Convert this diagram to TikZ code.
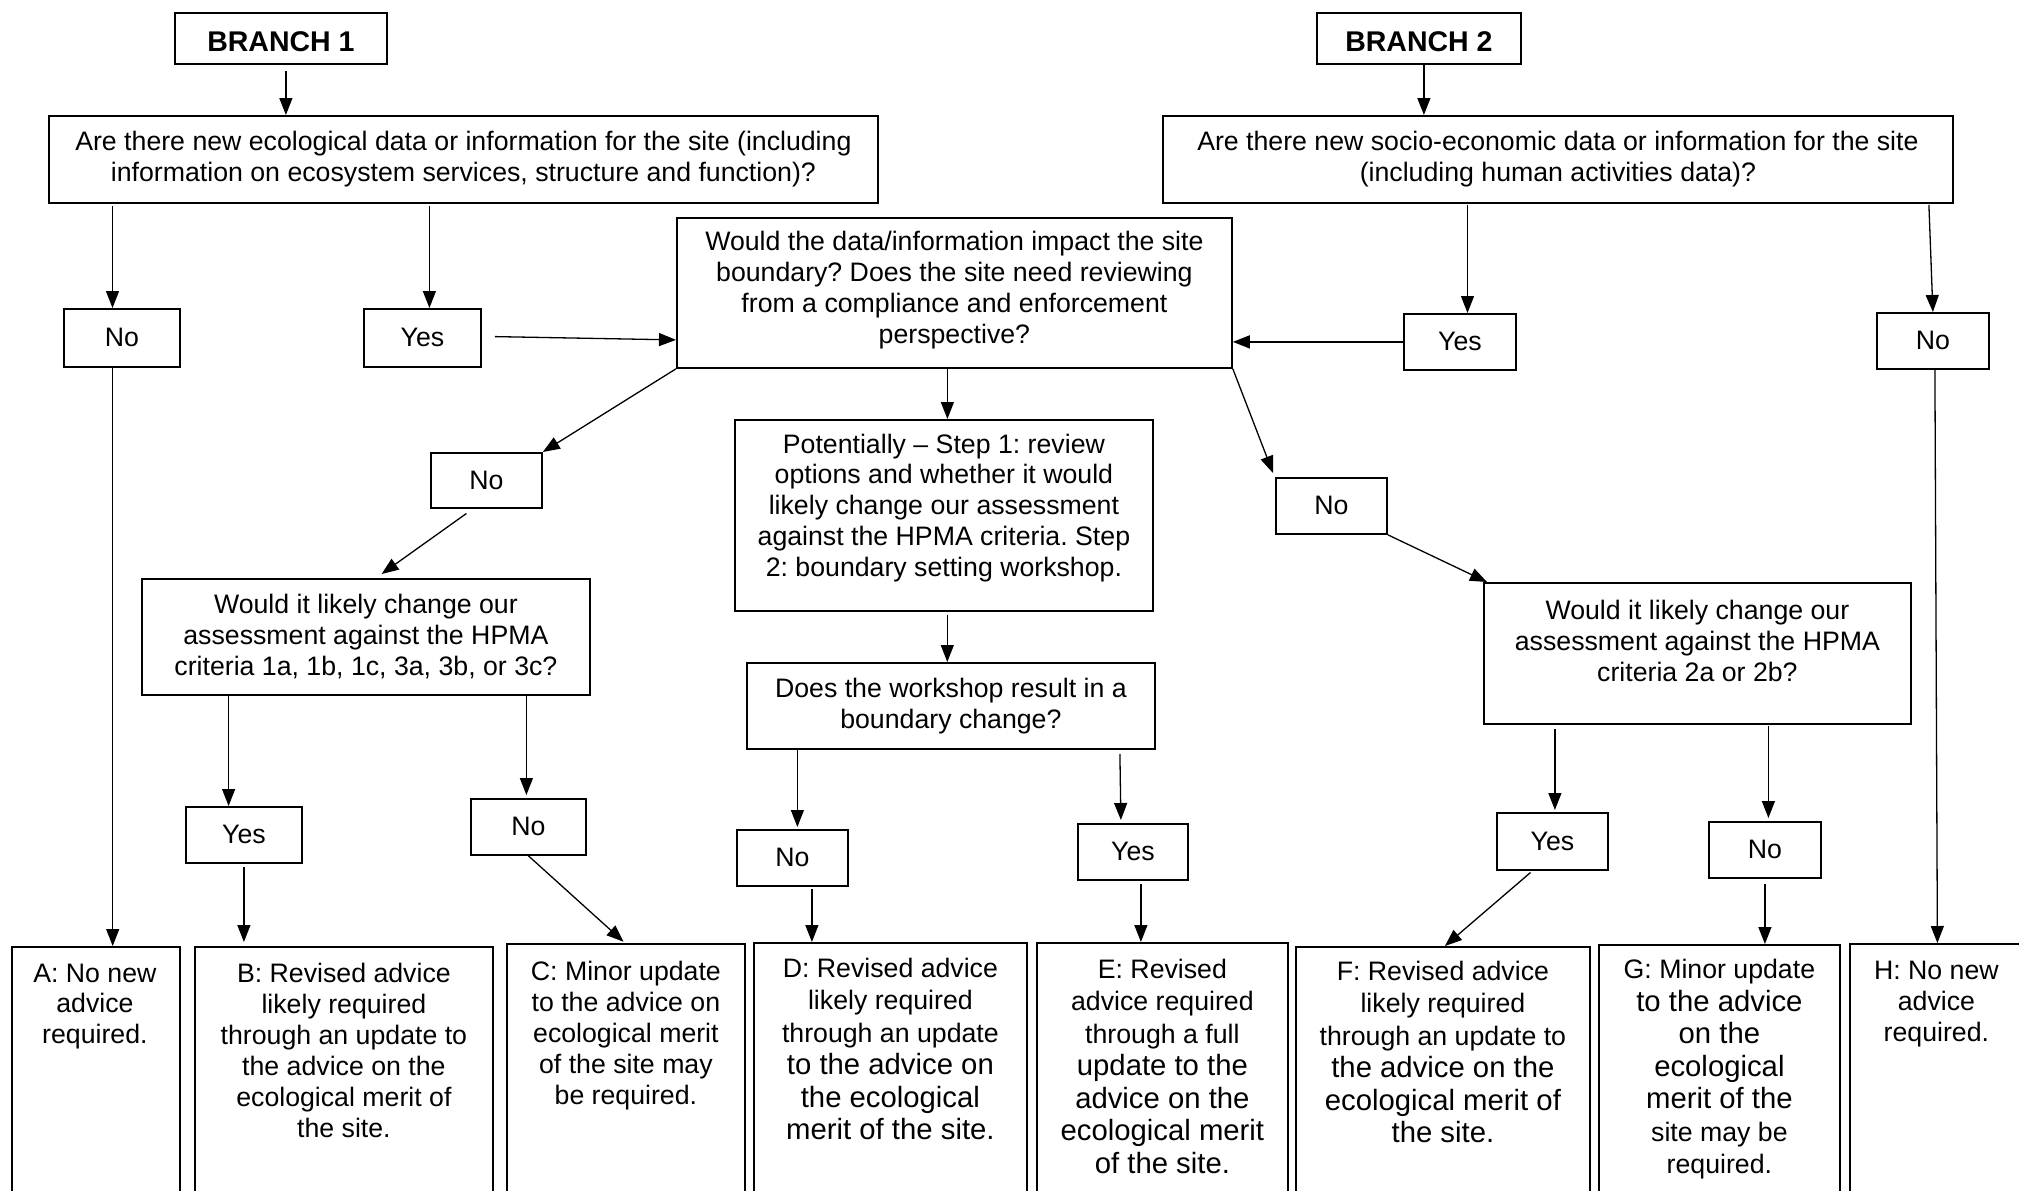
\documentclass[tikz,border=0pt]{standalone}
\usepackage{fontspec}
\setmainfont{Liberation Sans}
\usetikzlibrary{arrows.meta}
\newcommand\bigf{\fontsize{29.3}{33}\selectfont}
\frenchspacing
\begin{document}
\frenchspacing
\begin{tikzpicture}[x=1pt,y=-1pt,
  font=\fontsize{26.7}{30.9}\selectfont,
  box/.style={draw, line width=1.8pt, inner sep=0pt, anchor=north west, align=center},
  lbl/.style={inner sep=0pt, align=center},
  tall/.style={font=\fontsize{26.7}{32.5}\selectfont},
  brfont/.style={font=\fontsize{28.5}{30}\selectfont\bfseries, text height=25.4pt, text depth=0pt},
  arr/.style={line width=1.3pt, -{Triangle[length=17pt,width=13pt]}}]
\useasboundingbox (0,0) rectangle (2019,1191);
\fill[white] (0,0) rectangle (2019,1191);
\clip (0,0) rectangle (2019,1191);

% top level
\node[box, brfont, minimum width=212pt, minimum height=51pt] (b1) at (174,12) {BRANCH 1};
\node[box, brfont, minimum width=204pt, minimum height=51pt] (b2) at (1316,12) {BRANCH 2};
\node[box, minimum width=829pt, minimum height=87pt] (eco) at (48,115)
  {Are there new ecological data or information for the site (including\\information on ecosystem services, structure and function)?};
\node[box, minimum width=790pt, minimum height=87pt] (socio) at (1162,115)
  {Are there new socio-economic data or information for the site\\(including human activities data)?};

% second level
\node[box, minimum width=116pt, minimum height=58pt] (noL) at (63,308) {No};
\node[box, minimum width=117pt, minimum height=58pt] (yesL) at (363,308) {Yes};
\node[box, minimum width=555pt, minimum height=150pt] (cq) at (676,217) {};
\node[lbl] (cqT) at ([yshift=3pt]cq.center)
  {Would the data/information impact the site\\boundary? Does the site need reviewing\\from a compliance and enforcement\\perspective?};
\node[box, minimum width=112pt, minimum height=56pt] (yesR) at (1403,313) {Yes};
\node[box, minimum width=112pt, minimum height=56pt] (noR) at (1876,312) {No};

% third level
\node[box, minimum width=111pt, minimum height=55pt] (noM1) at (430,452) {No};
\node[box, minimum width=418pt, minimum height=191pt] (pot) at (734,419) {};
\node[lbl] (potT) at ([yshift=7.5pt]pot.center)
  {Potentially – Step 1: review\\options and whether it would\\likely change our assessment\\against the HPMA criteria. Step\\2: boundary setting workshop.};
\node[box, minimum width=408pt, minimum height=86pt] (does) at (746,662)
  {Does the workshop result in a\\boundary change?};
\node[box, minimum width=448pt, minimum height=116pt] (qL) at (141,578)
  {Would it likely change our\\assessment against the HPMA\\criteria 1a, 1b, 1c, 3a, 3b, or 3c?};
\node[box, minimum width=111pt, minimum height=56pt] (noM2) at (1275,477) {No};
\node[box, minimum width=427pt, minimum height=141pt] (qR) at (1483,582) {};
\node[lbl] (qRT) at ([yshift=12.5pt]qR.center)
  {Would it likely change our\\assessment against the HPMA\\criteria 2a or 2b?};

% answer labels
\node[box, minimum width=116pt, minimum height=56pt] (yesB) at (185,806) {Yes};
\node[box, minimum width=115pt, minimum height=56pt] (noC) at (470,798) {No};
\node[box, minimum width=111pt, minimum height=56pt] (noD) at (736,829) {No};
\node[box, minimum width=110pt, minimum height=56pt] (yesE) at (1077,823) {Yes};
\node[box, minimum width=111pt, minimum height=57pt] (yesF) at (1496,812) {Yes};
\node[box, minimum width=112pt, minimum height=56pt] (noG) at (1708,821) {No};

% outcome boxes (run off the bottom edge)
\node[box, minimum width=168pt, minimum height=260pt] (A) at (11,946) {};
\node[box, minimum width=298pt, minimum height=260pt] (B) at (194,946) {};
\node[box, minimum width=238pt, minimum height=260pt] (C) at (506,943) {};
\node[box, minimum width=273pt, minimum height=260pt] (D) at (753,942) {};
\node[box, minimum width=251pt, minimum height=260pt] (E) at (1036,942) {};
\node[box, minimum width=294pt, minimum height=260pt] (F) at (1295,946) {};
\node[box, minimum width=241pt, minimum height=260pt] (G) at (1598,944) {};
\node[box, minimum width=190pt, minimum height=260pt] (H) at (1849,943) {};

\node[lbl, anchor=north] (AT) at ([xshift=-1pt,yshift=-17.5pt]A.north) {A: No new\\advice\\required.};
\node[lbl, anchor=north] (BT) at ([yshift=-17pt]B.north)
  {B: Revised advice\\likely required\\through an update to\\the advice on the\\ecological merit of\\the site.};
\node[lbl, anchor=north] (CT) at ([yshift=-18pt]C.north)
  {C: Minor update\\to the advice on\\ecological merit\\of the site may\\be required.};
\node[lbl, tall, anchor=north] (DT) at ([yshift=-15.5pt]D.north)
  {D: Revised advice\\likely required\\through an update\\{\bigf to the advice on}\\{\bigf the ecological}\\{\bigf merit of the site.}};
\node[lbl, tall, anchor=north] (ET) at ([yshift=-16.5pt]E.north)
  {E: Revised\\advice required\\through a full\\{\bigf update to the}\\{\bigf advice on the}\\{\bigf ecological merit}\\{\bigf of the site.}};
\node[lbl, tall, anchor=north] (FT) at ([yshift=-14.5pt]F.north)
  {F: Revised advice\\likely required\\through an update to\\{\bigf the advice on the}\\{\bigf ecological merit of}\\{\bigf the site.}};
\node[lbl, tall, anchor=north] (GT) at ([yshift=-15pt]G.north)
  {G: Minor update\\{\bigf to the advice}\\{\bigf on the}\\{\bigf ecological}\\{\bigf merit of the}\\site may be\\required.};
\node[lbl, anchor=north] (HT) at ([xshift=-8.5pt,yshift=-18pt]H.north) {H: No new\\advice\\required.};

% connectors
\draw[arr] ([xshift=5pt,yshift=-6pt]b1.south) -- ([xshift=5pt]b1.south |- eco.north);
\draw[arr] ([xshift=-9.4pt,yshift=-2pt]noL.north |- eco.south) -- ([xshift=-9.4pt]noL.north);
\draw[arr] ([xshift=7pt,yshift=-2pt]yesL.north |- eco.south) -- ([xshift=7pt]yesL.north);
\draw[arr] ([xshift=13pt,yshift=1.3pt]yesL.east) -- ([yshift=-47pt]cq.west);
\draw[arr] ([xshift=5pt]b2.south) -- ([xshift=5pt]b2.south |- socio.north);
\draw[arr] ([xshift=7.6pt,yshift=-1pt]yesR.north |- socio.south) -- ([xshift=7.6pt]yesR.north);
\draw[arr] ([xshift=-4pt,yshift=-1pt]noR.north |- socio.south) -- (noR.north);
\draw[arr] (yesR.west) -- (cq.east |- yesR.west);
\draw[arr] (cq.south west) -- (noM1.north east);
\draw[arr] ([xshift=-20pt,yshift=-4.7pt]noM1.south) -- ([xshift=15.7pt,yshift=4pt]qL.north);
\draw[arr] ([xshift=-7pt]cq.south) -- ([xshift=-7pt]cq.south |- pot.north);
\draw[arr] ([xshift=3.4pt,yshift=-3pt]pot.south) -- ([xshift=3.4pt]pot.south |- does.north);
\draw[arr] (cq.south east) -- ([xshift=-2pt,yshift=4pt]noM2.north west);
\draw[arr] (noM2.south east) -- ([xshift=4pt]qR.north west);
\draw[arr] ([xshift=-15.3pt]yesB.north |- qL.south) -- ([xshift=-15.3pt]yesB.north);
\draw[arr] ([xshift=-2pt]noC.north |- qL.south) -- ([xshift=-2pt,yshift=3pt]noC.north);
\draw[arr] ([yshift=-3pt]yesB.south) -- ([yshift=4pt]yesB.south |- B.north);
\draw[arr] (noC.south) -- ([xshift=-2.4pt,yshift=1.3pt]C.north);
\draw[arr] ([xshift=5pt]noD.north |- does.south) -- ([xshift=5pt,yshift=2pt]noD.north);
\draw[arr] ([xshift=-13pt,yshift=-4pt]yesE.north |- does.south) -- ([xshift=-12pt,yshift=3pt]yesE.north);
\draw[arr] ([xshift=19.5pt,yshift=-2pt]noD.south) -- ([xshift=19.5pt]noD.south |- D.north);
\draw[arr] ([xshift=8pt,yshift=-3pt]yesE.south) -- ([xshift=8pt]yesE.south |- E.north);
\draw[arr] ([xshift=2.5pt,yshift=-4pt]yesF.north |- qR.south) -- ([xshift=2.5pt,yshift=2pt]yesF.north);
\draw[arr] ([xshift=3.5pt,yshift=-1pt]noG.north |- qR.south) -- ([xshift=3.5pt,yshift=3pt]noG.north);
\draw[arr] ([xshift=-21.9pt,yshift=-1.7pt]yesF.south) -- ([xshift=2pt]F.north);
\draw[arr] ([yshift=-4.7pt]noG.south) -- (noG.south |- G.north);
\draw[arr] ([xshift=2pt]noR.south) -- ([xshift=4.5pt]noR.south |- H.north);
\draw[arr] ([xshift=-9.2pt]noL.south) -- ([xshift=-9.2pt]noL.south |- A.north);
\end{tikzpicture}
\end{document}
